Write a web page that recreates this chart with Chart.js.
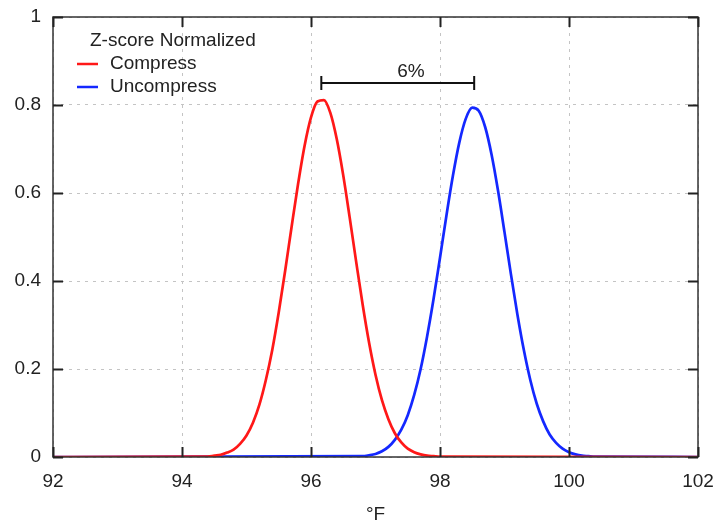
<!DOCTYPE html>
<html><head><meta charset="utf-8">
<script src="https://cdn.jsdelivr.net/npm/chart.js@4/dist/chart.umd.min.js"></script>
<style>html,body{margin:0;padding:0;background:#fff}</style>
</head><body>
<canvas id="c" width="722" height="522"></canvas>
<script>
const legendTitle = 'Z-score Normalized';
const seriesNames = ['Compress', 'Uncompress'];
const axisTitle = '°F';
const xTicks = [92, 94, 96, 98, 100, 102];
const yTicks = [0, 0.2, 0.4, 0.6, 0.8, 1];

const compressX = [92, 94.4, 94.5, 94.6, 94.7, 94.8, 94.9, 95.0, 95.1, 95.2, 95.3, 95.4, 95.5, 95.6, 95.7, 95.8, 95.9,
  96.0, 96.1, 96.2, 96.3, 96.4, 96.5, 96.6, 96.7, 96.8, 96.9, 97.0, 97.1, 97.2, 97.3, 97.4, 97.5, 97.6, 97.7, 97.8, 97.9, 98.0, 102];
const compressY = [0, 0.001, 0.003, 0.005, 0.010, 0.017, 0.030, 0.049, 0.078, 0.119, 0.175, 0.244, 0.329, 0.424, 0.524, 0.621, 0.707,
  0.772, 0.808, 0.811, 0.782, 0.722, 0.640, 0.544, 0.444, 0.347, 0.260, 0.187, 0.129, 0.086, 0.054, 0.033, 0.019, 0.011, 0.006, 0.003, 0.002, 0.001, 0];

const uncompressX = [92, 96.8, 96.9, 97.0, 97.1, 97.2, 97.3, 97.4, 97.5, 97.6, 97.7, 97.8, 97.9, 98.0, 98.1, 98.2, 98.3,
  98.4, 98.5, 98.6, 98.7, 98.8, 98.9, 99.0, 99.1, 99.2, 99.3, 99.4, 99.5, 99.6, 99.7, 99.8, 99.9, 100.0, 100.1, 100.2, 100.3, 100.4, 102];
const uncompressY = [0, 0.002, 0.004, 0.007, 0.013, 0.023, 0.039, 0.062, 0.095, 0.141, 0.200, 0.274, 0.359, 0.453, 0.549, 0.639, 0.715,
  0.769, 0.794, 0.787, 0.750, 0.687, 0.605, 0.511, 0.415, 0.324, 0.243, 0.175, 0.121, 0.081, 0.051, 0.032, 0.019, 0.011, 0.006, 0.003, 0.002, 0.001, 0];

const gapLabel = '6%';
const gapFrom = 96.16, gapTo = 98.53, gapLevel = 0.85;
const gapLabelX = 97.55, gapLabelY = 0.875;

const FONT = '"Liberation Sans", Arial, sans-serif';
const colors = ['rgb(255,24,24)', 'rgb(20,40,255)'];

const pts = (xs, ys) => xs.map((x, i) => ({x: x, y: ys[i]}));

const decor = {
  id: 'decor',
  afterDatasetsDraw(chart) {
    const ctx = chart.ctx, a = chart.chartArea;
    const xs = chart.scales.x, ys = chart.scales.y;
    ctx.save();
    ctx.strokeStyle = '#333'; ctx.lineWidth = 1.5;
    ctx.strokeRect(a.left, a.top, a.right - a.left, a.bottom - a.top);
    ctx.lineWidth = 2; ctx.strokeStyle = '#222';
    const L = 10;
    xTicks.forEach(v => {
      const p = Math.round(xs.getPixelForValue(v)) + 0.5;
      ctx.beginPath();
      ctx.moveTo(p, a.bottom); ctx.lineTo(p, a.bottom - L);
      ctx.moveTo(p, a.top); ctx.lineTo(p, a.top + L);
      ctx.stroke();
    });
    yTicks.forEach(v => {
      const p = Math.round(ys.getPixelForValue(v)) + 0.5;
      ctx.beginPath();
      ctx.moveTo(a.left, p); ctx.lineTo(a.left + L, p);
      ctx.moveTo(a.right, p); ctx.lineTo(a.right - L, p);
      ctx.stroke();
    });
    const x1 = xs.getPixelForValue(gapFrom), x2 = xs.getPixelForValue(gapTo);
    const yb = ys.getPixelForValue(gapLevel);
    ctx.strokeStyle = '#111'; ctx.lineWidth = 2;
    ctx.beginPath();
    ctx.moveTo(x1, yb); ctx.lineTo(x2, yb);
    ctx.moveTo(x1, yb - 7); ctx.lineTo(x1, yb + 7);
    ctx.moveTo(x2, yb - 7); ctx.lineTo(x2, yb + 7);
    ctx.stroke();
    ctx.fillStyle = '#222';
    ctx.font = '19px ' + FONT;
    ctx.textAlign = 'center'; ctx.textBaseline = 'middle';
    ctx.fillText(gapLabel, xs.getPixelForValue(gapLabelX), ys.getPixelForValue(gapLabelY));
    ctx.textAlign = 'left';
    ctx.fillText(legendTitle, 90, 41);
    chart.data.datasets.forEach((ds, i) => {
      const y = 64 + i * 23;
      ctx.strokeStyle = ds.borderColor; ctx.lineWidth = 2.5;
      ctx.beginPath(); ctx.moveTo(77, y); ctx.lineTo(98, y); ctx.stroke();
      ctx.fillStyle = '#222';
      ctx.fillText(ds.label, 110, y);
    });
    ctx.restore();
  }
};

new Chart(document.getElementById('c'), {
  type: 'line',
  data: {
    datasets: [
      {label: seriesNames[0], data: pts(compressX, compressY), borderColor: colors[0], borderWidth: 2.7,
       pointRadius: 0, fill: false, cubicInterpolationMode: 'monotone'},
      {label: seriesNames[1], data: pts(uncompressX, uncompressY), borderColor: colors[1], borderWidth: 2.7,
       pointRadius: 0, fill: false, cubicInterpolationMode: 'monotone'}
    ]
  },
  options: {
    responsive: false, animation: false, devicePixelRatio: 1,
    layout: {padding: {left: 0, right: 24, top: 17, bottom: 0}},
    plugins: {legend: {display: false}, tooltip: {enabled: false}},
    scales: {
      x: {
        type: 'linear', min: 92, max: 102,
        afterBuildTicks: s => { s.ticks = xTicks.map(v => ({value: v})); },
        afterFit: s => { s.height = 65; s.paddingLeft = 0; s.paddingRight = 0; },
        grid: {color: '#c4c4c4', lineWidth: 1, drawTicks: false},
        border: {display: false, dash: [3, 5]},
        ticks: {color: '#222', font: {family: FONT, size: 19}, padding: 13, maxRotation: 0,
                callback: v => String(v)},
        title: {display: true, text: axisTitle, color: '#222', font: {family: FONT, size: 19, lineHeight: 1},
                padding: {top: 0, bottom: -2}}
      },
      y: {
        min: 0, max: 1,
        afterBuildTicks: s => { s.ticks = yTicks.map(v => ({value: v})); },
        afterFit: s => { s.width = 53; s.paddingTop = 0; s.paddingBottom = 0; },
        grid: {color: '#c4c4c4', lineWidth: 1, drawTicks: false},
        border: {display: false, dash: [3, 5]},
        ticks: {color: '#222', font: {family: FONT, size: 19}, padding: 12, callback: v => String(v)}
      }
    }
  },
  plugins: [decor]
});
</script>
</body></html>
